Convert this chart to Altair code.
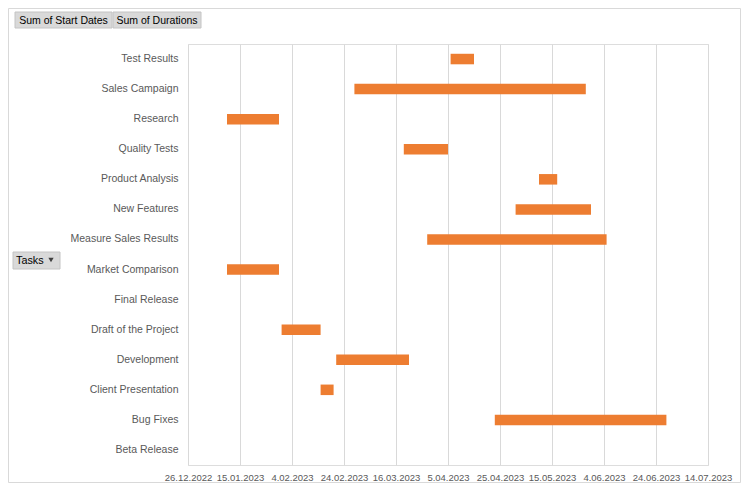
import altair as alt
import pandas as pd

# ---- data ----
tasks = ["Test Results", "Sales Campaign", "Research", "Quality Tests",
         "Product Analysis", "New Features", "Measure Sales Results",
         "Market Comparison", "Final Release", "Draft of the Project",
         "Development", "Client Presentation", "Bug Fixes", "Beta Release"]
start_dates = ["2023-04-06", "2023-02-28", "2023-01-10", "2023-03-19",
               "2023-05-10", "2023-05-01", "2023-03-28", "2023-01-10",
               None, "2023-01-31", "2023-02-21", "2023-02-15",
               "2023-04-23", None]
durations = [9, 89, 20, 17, 7, 29, 69, 20, 0, 15, 28, 5, 66, 0]
tick_dates = ["2022-12-26", "2023-01-15", "2023-02-04", "2023-02-24",
              "2023-03-16", "2023-04-05", "2023-04-25", "2023-05-15",
              "2023-06-04", "2023-06-24", "2023-07-14"]
field_buttons = ["Sum of Start Dates", "Sum of Durations"]
axis_button = "Tasks"

FONT = "Liberation Sans"
TXT = "#595959"
ORANGE = "#ED7D31"

df = pd.DataFrame({"task": tasks, "start": start_dates, "dur": durations})
df = df.dropna(subset=["start"]).copy()
s = pd.to_datetime(df["start"])
df["end"] = (s + pd.to_timedelta(df["dur"], unit="D")).dt.strftime("%Y-%m-%d")


def dt(s):
    y, m, d = (int(v) for v in s.split("-"))
    return alt.DateTime(year=y, month=m, date=d, utc=True)


bars = alt.Chart(df).mark_bar(color=ORANGE).encode(
    x=alt.X("start:T",
            scale=alt.Scale(type="utc", domain=[dt(tick_dates[0]), dt(tick_dates[-1])]),
            axis=alt.Axis(values=[dt(t) for t in tick_dates], format="%-d.%m.%Y",
                          title=None, domain=False, ticks=False, grid=True,
                          gridColor="#d9d9d9", gridWidth=1, labelFont=FONT,
                          labelFontSize=9.5, labelColor=TXT, labelPadding=7,
                          labelOverlap=False, labelFlush=False)),
    x2="end:T",
    y=alt.Y("task:N", sort=tasks,
            scale=alt.Scale(domain=tasks, paddingInner=0.65, paddingOuter=0.325),
            axis=alt.Axis(title=None, domain=False, ticks=False, grid=False,
                          labelFont=FONT, labelFontSize=10.5, labelColor=TXT,
                          labelPadding=10)),
)

# ---- decorations: outer border and pivot field buttons ----
one = pd.DataFrame({"a": [0]})
border = alt.Chart(one).mark_rect(fill=None, stroke="#d9d9d9", strokeWidth=1).encode(
    x=alt.value(-179.5), x2=alt.value(552.5), y=alt.value(-35.5), y2=alt.value(438.5))

btn_x1 = [-173, -75]
btn_x2 = [-76, 13]
btn_xc = [-124.5, -31]
btn_rects = []
btn_texts = []
for i, lab in enumerate(field_buttons):
    d = pd.DataFrame({"label": [lab]})
    btn_rects.append(alt.Chart(d).mark_rect(fill="#d9d9d9", stroke="#c4c4c4", strokeWidth=1).encode(
        x=alt.value(btn_x1[i]), x2=alt.value(btn_x2[i]), y=alt.value(-32), y2=alt.value(-16)))
    btn_texts.append(alt.Chart(d).mark_text(font=FONT, fontSize=10.5, color="#000000",
                                            align="center", baseline="middle").encode(
        x=alt.value(btn_xc[i]), y=alt.value(-23.5), text="label:N"))

tdf = pd.DataFrame({"label": [axis_button]})
tasks_rect = alt.Chart(tdf).mark_rect(fill="#d9d9d9", stroke="#c4c4c4", strokeWidth=1).encode(
    x=alt.value(-175), x2=alt.value(-128), y=alt.value(208), y2=alt.value(225))
tasks_text = alt.Chart(tdf).mark_text(font=FONT, fontSize=10.8, color="#000000",
                                      align="left", baseline="middle").encode(
    x=alt.value(-172), y=alt.value(216.5), text="label:N")
tasks_tri = alt.Chart(tdf).mark_point(shape="triangle-down", filled=True, size=28,
                                      color="#404040", opacity=1).encode(
    x=alt.value(-137), y=alt.value(216))

chart = alt.layer(bars, border, *btn_rects, *btn_texts, tasks_rect, tasks_text, tasks_tri).properties(
    width=520, height=421,
    autosize=alt.AutoSizeParams(type="none"),
    padding={"left": 180, "top": 36, "right": 33, "bottom": 19},
).configure_view(stroke=None).configure(background="white")

chart.save("out.html", embed_options={"renderer": "svg", "actions": False})
